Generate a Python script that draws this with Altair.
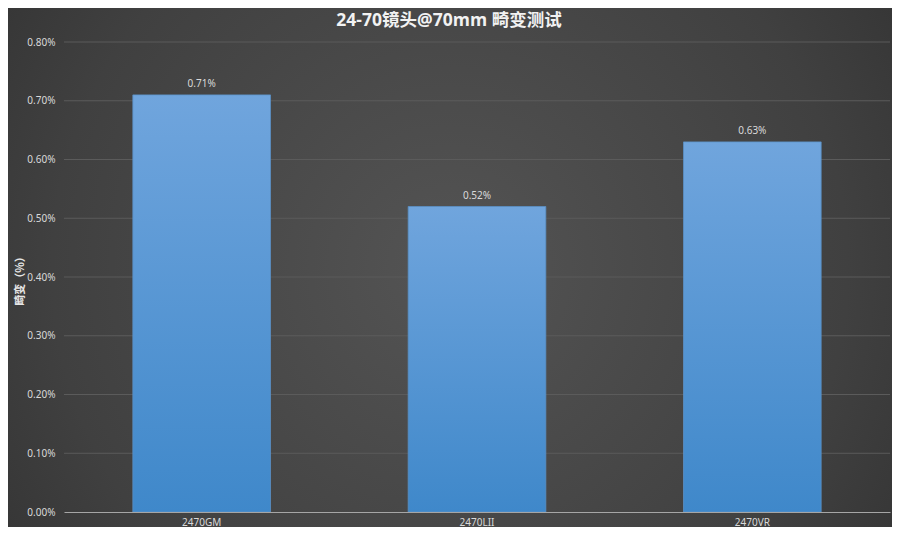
import altair as alt
import pandas as pd

categories = ["2470GM", "2470LII", "2470VR"]
values = [0.0071, 0.0052, 0.0063]
labels = ["0.71%", "0.52%", "0.63%"]
y_ticks = [0.0, 0.001, 0.002, 0.003, 0.004, 0.005, 0.006, 0.007, 0.008]

df = pd.DataFrame({"lens": categories, "value": values, "label": labels})
grid_df = pd.DataFrame({"value": y_ticks[1:]})

W, H = 826, 470
PL, PT, PR, PB = 56, 34, 2, 15

bg = alt.Chart(pd.DataFrame({"a": [0]})).mark_rect(
    fill=alt.Gradient(
        gradient="radial",
        stops=[alt.GradientStop(color="#545454", offset=0),
               alt.GradientStop(color="#404040", offset=0.6),
               alt.GradientStop(color="#2b2b2b", offset=1)],
        x1=0.5, y1=0.5, r1=0, x2=0.5, y2=0.5, r2=0.75,
    )
).encode(x=alt.value(-PL), x2=alt.value(W + PR), y=alt.value(-PT), y2=alt.value(H + PB))

y_scale = alt.Scale(domain=[0, 0.008], nice=False)
y_axis = alt.Axis(values=y_ticks, format=".2%", labelColor="#d9d9d9",
                  labelFontSize=10, labelPadding=9, ticks=False, domain=False,
                  grid=False, zindex=1,
                  titleColor="#e6e6e6", titleFontSize=11, titleFontWeight="bold",
                  titleFont="Noto Sans CJK SC", titleX=-44, titleY=236,
                  titleAngle=-90, titleAlign="center", titleBaseline="middle",
                  labelFont="Noto Sans")
y_title = "畸变（%）"

grid = alt.Chart(grid_df).mark_rule(color="#5b5b5b", strokeWidth=1).encode(
    y=alt.Y("value:Q", scale=y_scale, axis=y_axis, title=y_title))

x_enc = alt.X("lens:N", sort=categories, title=None,
              scale=alt.Scale(paddingInner=0.5, paddingOuter=0.25),
              axis=alt.Axis(labelAngle=0, labelColor="#d9d9d9", labelFontSize=10,
                            labelPadding=5, ticks=False, domainColor="#a6a6a6",
                            domainWidth=1.2, labelFont="Noto Sans", zindex=1))

bars = alt.Chart(df).mark_bar(
    fill=alt.Gradient(
        gradient="linear",
        stops=[alt.GradientStop(color="#70a5dd", offset=0),
               alt.GradientStop(color="#3f88ca", offset=1)],
        x1=0, x2=0, y1=0, y2=1,
    ),
    stroke="#5b8fc4", strokeWidth=0.8,
).encode(x=x_enc, y=alt.Y("value:Q", scale=y_scale, axis=y_axis, title=y_title))

text = alt.Chart(df).mark_text(dy=-11, color="#d9d9d9", fontSize=10, font="Noto Sans").encode(
    x=alt.X("lens:N", sort=categories),
    y=alt.Y("value:Q", scale=y_scale, axis=y_axis, title=y_title),
    text="label:N")

chart = alt.layer(bg, grid, bars, text).properties(
    width=W, height=H,
    autosize=alt.AutoSizeParams(type="none"),
    padding={"left": PL, "top": PT, "right": PR, "bottom": PB},
    title=alt.TitleParams("24-70镜头@70mm  畸变测试",
                          font="'Open Sans', 'Noto Sans CJK SC'", fontSize=17.5,
                          fontWeight="bold", color="#f2f2f2", anchor="middle",
                          dx=-28, offset=-21),
    background="#333333",
).configure_view(stroke=None)

chart.save("out.html", embed_options={"renderer": "svg", "actions": False})
